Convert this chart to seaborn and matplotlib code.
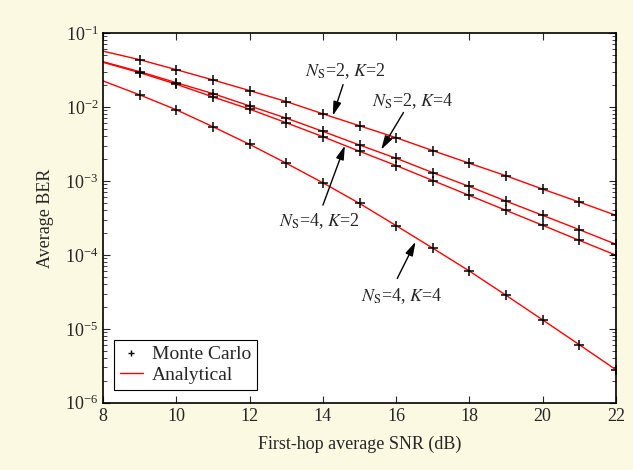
import numpy as np
import pandas as pd
import seaborn as sns
import matplotlib.pyplot as plt
from matplotlib.lines import Line2D
from matplotlib.ticker import LogLocator, FixedLocator

# SNR grid (dB)
snr = [8, 9, 10, 11, 12, 13, 14, 15, 16, 17, 18, 19, 20, 21, 22]

# BER values
ber_ns2_k2 = [0.0566, 0.0434, 0.0318, 0.0231, 0.0166, 0.0118, 0.00805, 0.00555,
              0.00383, 0.00256, 0.00173, 0.00117, 0.000773, 0.000517, 0.000342]
ber_ns2_k4 = [0.0407, 0.0299, 0.0212, 0.0151, 0.0103, 0.00704, 0.00466, 0.00305,
              0.00202, 0.00129, 0.000839, 0.000532, 0.000342, 0.000219, 0.000139]
ber_ns4_k2 = [0.0400, 0.0290, 0.0202, 0.0136, 0.00931, 0.00610, 0.00395, 0.00251,
              0.00161, 0.00101, 0.000635, 0.000399, 0.000251, 0.000157, 0.0000990]
ber_ns4_k4 = [0.0224, 0.0145, 0.00912, 0.00538, 0.00311, 0.00173, 0.000940, 0.000495,
              0.000248, 0.000123, 0.0000603, 0.0000284, 0.0000132, 0.0000061, 0.0000028]

cases = ["Ns2K2", "Ns2K4", "Ns4K2", "Ns4K4"]
series = [ber_ns2_k2, ber_ns2_k4, ber_ns4_k2, ber_ns4_k4]

df = pd.DataFrame({
    "snr": snr * len(cases),
    "ber": sum(series, []),
    "case": np.repeat(cases, len(snr)),
})
mc = df[df["snr"] >= 9]

sns.set_style("ticks")
plt.rcParams["font.family"] = ["Liberation Serif", "DejaVu Serif"]
plt.rcParams["mathtext.fontset"] = "stix"

fig = plt.figure(figsize=(6.33, 4.70), dpi=100, facecolor="#fbf9e1")
ax = fig.add_axes([0.163, 0.143, 0.810, 0.787])
ax.set_facecolor("white")

sns.lineplot(data=df, x="snr", y="ber", hue="case", palette=["#ff0000"] * 4,
             linewidth=1.0, legend=False, ax=ax, zorder=2)
sns.scatterplot(data=mc, x="snr", y="ber", color="black", marker="+", s=45,
                linewidth=1.1, legend=False, ax=ax, zorder=3)

ax.set_yscale("log")
ax.set_xlim(8, 22)
ax.set_ylim(1e-6, 1e-1)
ax.xaxis.set_major_locator(FixedLocator([8, 10, 12, 14, 16, 18, 20, 22]))
ax.yaxis.set_major_locator(LogLocator(base=10, numticks=10))
ax.yaxis.set_minor_locator(LogLocator(base=10, subs=np.arange(2, 10), numticks=10))
ax.tick_params(which="both", direction="in", top=True, right=True, labelsize=13)
ax.tick_params(which="major", length=5, width=0.8)
ax.tick_params(which="minor", length=3, width=0.6)
for sp in ax.spines.values():
    sp.set_linewidth(1.2)
    sp.set_color("black")

ax.set_xlabel("First-hop average SNR (dB)", fontsize=13, labelpad=8)
ax.set_ylabel("Average BER", fontsize=13, labelpad=8)

arrow = dict(arrowstyle="-|>,head_length=0.7,head_width=0.2", color="black",
             lw=1.0, mutation_scale=12, shrinkA=0, shrinkB=0)
notes = [
    (r"$N_\mathrm{S}$=2, $K$=2", (14.27, 0.0076), (14.6, 0.030), (14.55, 0.020)),
    (r"$N_\mathrm{S}$=2, $K$=4", (15.59, 0.00264), (16.45, 0.012), (16.2, 0.0084)),
    (r"$N_\mathrm{S}$=4, $K$=2", (14.6, 0.0030), (13.9, 0.00029), (14.0, 0.00047)),
    (r"$N_\mathrm{S}$=4, $K$=4", (16.53, 0.00015), (16.15, 2.8e-5), (16.03, 4.8e-5)),
]
for label, tip, txt, tail in notes:
    ax.text(txt[0], txt[1], label, fontsize=13, ha="center", va="center")
    ax.annotate("", xy=tip, xytext=tail, arrowprops=arrow)

handles = [
    Line2D([], [], color="black", marker="+", linestyle="none", markersize=5,
           markeredgewidth=1.0),
    Line2D([], [], color="#ff0000", linewidth=1.0),
]
leg = ax.legend(handles, ["Monte Carlo", "Analytical"], loc="lower left",
                bbox_to_anchor=(0.021, 0.035), borderaxespad=0, fontsize=14,
                frameon=True, fancybox=False, edgecolor="black", framealpha=1,
                borderpad=0.3, handlelength=1.2, handletextpad=0.45,
                labelspacing=0.15)
leg.get_frame().set_linewidth(0.8)

fig.savefig("out.png", dpi=100, facecolor=fig.get_facecolor())
